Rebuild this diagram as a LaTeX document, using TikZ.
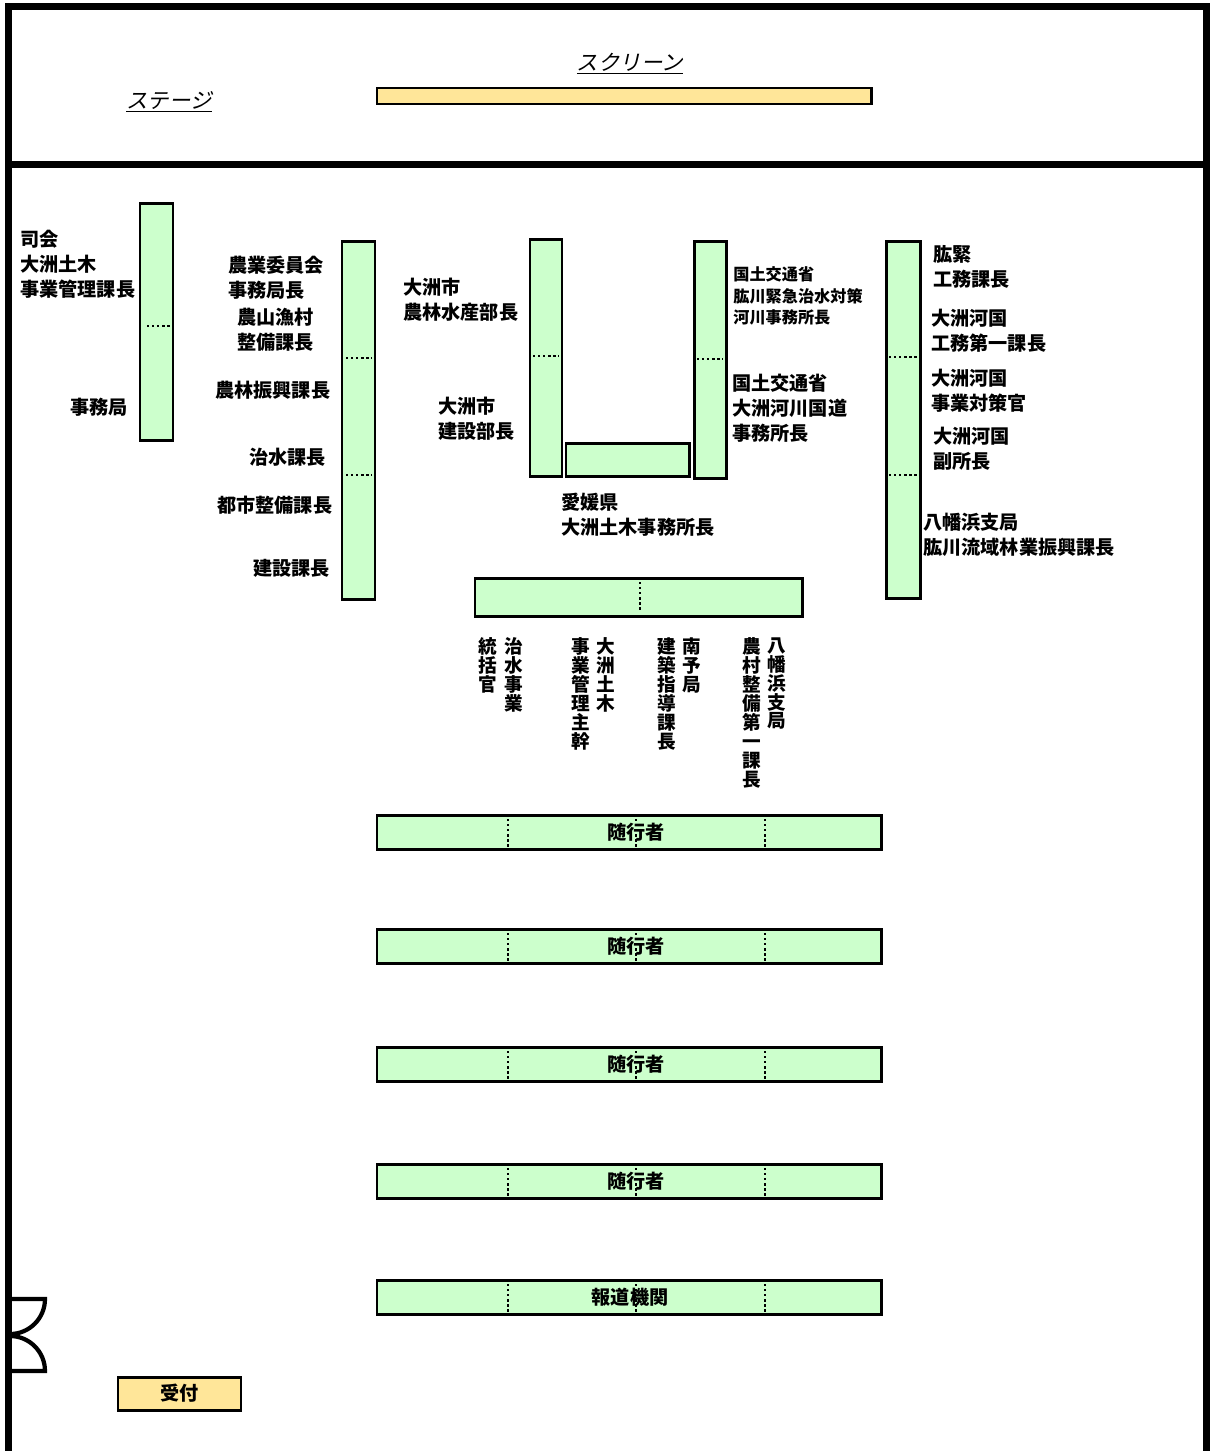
\documentclass[tikz,border=0pt]{standalone}
\usepackage{fontspec}
\setmainfont{Noto Sans CJK JP}
\newfontfamily\slantjp{Noto Sans CJK JP}[FakeSlant=0.22]
\usepackage{xcolor}
\definecolor{cDesk}{HTML}{CCFFCC}
\definecolor{cScreen}{HTML}{FFE699}
\usepackage{tikz}
\usetikzlibrary{positioning}
\newcommand\pxu{0.02cm}
\tikzset{
  line-wall/.style={line width=4pt,draw=black,line join=miter},
  line-door/.style={line width=2.4pt,draw=black},
  node-desk/.style={draw=black,line width=1.7pt,fill=cDesk,inner sep=0pt},
  node-screen/.style={draw=black,line width=1.7pt,fill=cScreen,inner sep=0pt,
    font=\bfseries\fontsize{10.9}{12}\selectfont},
  line-split/.style={line width=1.6pt,dash pattern=on 1.3pt off 1.6pt},
  label-seat/.style={font=\bfseries\fontsize{10.9}{14.2}\selectfont,
    inner sep=0pt,align=left,anchor=west},
  label-small/.style={font=\bfseries\fontsize{9.2}{12.3}\selectfont,
    inner sep=0pt,align=left,anchor=west},
  label-vert/.style={font=\bfseries\fontsize{10.6}{10.8}\selectfont,
    inner sep=0pt,align=center,anchor=north},
  label-row/.style={font=\bfseries\fontsize{10.9}{12}\selectfont,inner sep=0pt},
  label-area/.style={font=\slantjp\fontsize{12.2}{14}\selectfont,inner sep=0pt},
}
\begin{document}
\begin{tikzpicture}[x=0.02cm,y=-0.02cm]
  \useasboundingbox (0,0) rectangle (1210,1451);
  % walls and stage line
  \draw[line-wall] (8.5,1451) -- (8.5,6.5) -- (1206.5,6.5) -- (1206.5,1451);
  \draw[line-wall] (8.5,164.5) -- (1206.5,164.5);
  % door
  \draw[line-door] (10,1299) -- (45,1299) arc[start angle=0,end angle=90,radius=35];
  \draw[line-door] (10,1336) arc[start angle=-90,end angle=0,radius=35] -- (10,1371);
  % stage
  \node[node-screen,minimum width=494*\pxu,minimum height=16*\pxu] (screen) at (624,96) {};
  \node[label-area] (lbl-screen) at (630,64) {\underline{スクリーン}};
  \node[label-area] (lbl-stage) at (169,102) {\underline{ステージ}};

  % desks
  \node[node-desk,minimum width=33*\pxu,minimum height=237*\pxu] (desk-mc) at (156.5,321.5) {};
  \node[node-desk,minimum width=33*\pxu,minimum height=358*\pxu] (desk-left) at (358.5,420) {};
  \node[node-desk,minimum width=32*\pxu,minimum height=237*\pxu] (desk-city) at (546,357.5) {};
  \node[node-desk,minimum width=123*\pxu,minimum height=33*\pxu] (desk-pref) at (627.5,459.5) {};
  \node[node-desk,minimum width=32*\pxu,minimum height=237*\pxu] (desk-mlit) at (710,359.5) {};
  \node[node-desk,minimum width=34*\pxu,minimum height=357*\pxu] (desk-right) at (903,419.5) {};
  \node[node-desk,minimum width=327*\pxu,minimum height=38*\pxu] (desk-front) at (638.5,597) {};
  \draw[line-split] (147,326) -- (171,326);
  \draw[line-split] (346,358) -- (372,358);
  \draw[line-split] (346,475) -- (372,475);
  \draw[line-split] (533,356) -- (559,356);
  \draw[line-split] (697,359) -- (723,359);
  \draw[line-split] (889,357) -- (917,357);
  \draw[line-split] (889,475) -- (917,475);
  \draw[line-split] (640,582) -- (640,612);

  % seat labels
  \node[label-seat] (lbl-mc) at (20,264) {司会\\大洲土木\\事業管理課長};
  \node[label-seat] (lbl-sec) at (70,407) {事務局};
  \node[label-seat] (lbl-nogyo) at (228,278) {農業委員会\\事務局長};
  \node[label-seat] (lbl-sanson) at (237,330) {農山漁村\\整備課長};
  \node[label-seat] (lbl-rinshin) at (215,390) {農林振興課長};
  \node[label-seat] (lbl-chisui) at (249,457) {治水課長};
  \node[label-seat] (lbl-toshi) at (217,505) {都市整備課長};
  \node[label-seat] (lbl-kensetsu) at (253,568) {建設課長};
  \node[label-seat] (lbl-rinsui) at (403,300) {大洲市\\農林水産部長};
  \node[label-seat] (lbl-kenbu) at (438,419) {大洲市\\建設部長};
  \node[label-seat] (lbl-doboku) at (561,515) {愛媛県\\大洲土木事務所長};
  \node[label-small] (lbl-kinkyu) at (733,296) {国土交通省\\肱川緊急治水対策\\河川事務所長};
  \node[label-seat] (lbl-kokudo) at (732,408) {国土交通省\\大洲河川国道\\事務所長};
  \node[label-seat] (lbl-komu) at (933,267) {肱緊\\工務課長};
  \node[label-seat] (lbl-komu1) at (931,331) {大洲河国\\工務第一課長};
  \node[label-seat] (lbl-taisaku) at (931,391) {大洲河国\\事業対策官};
  \node[label-seat] (lbl-fuku) at (933,449) {大洲河国\\副所長};
  \node[label-seat] (lbl-yawata) at (923,535) {八幡浜支局\\肱川流域林業振興課長};

  % front desk, vertical labels
  \node[label-vert] (v-tokatsu) at (488,637) {統\\括\\官};
  \node[label-vert] (v-chisui) at (514,637) {治\\水\\事\\業};
  \node[label-vert] (v-kanri) at (581,637) {事\\業\\管\\理\\主\\幹};
  \node[label-vert] (v-doboku) at (606,637) {大\\洲\\土\\木};
  \node[label-vert] (v-kenchiku) at (667,637) {建\\築\\指\\導\\課\\長};
  \node[label-vert] (v-nanyo) at (692,637) {南\\予\\局};
  \node[label-vert] (v-noson) at (752,637) {農\\村\\整\\備\\第\\一\\課\\長};
  \node[label-vert] (v-yawata) at (777,637) {八\\幡\\浜\\支\\局};

  % rows at the back
  \foreach \ry in {832,946,1064,1181,1297} {
    \node[node-desk,minimum width=504*\pxu,minimum height=34*\pxu] (row-\ry) at (629,\ry) {};
    \foreach \rx in {508,636,765}
      \draw[line-split] (\rx,\ry-13) -- (\rx,\ry+15);
  }
  \node[label-row] (lbl-row1) at (636,832) {随行者};
  \node[label-row] (lbl-row2) at (636,946) {随行者};
  \node[label-row] (lbl-row3) at (636,1064) {随行者};
  \node[label-row] (lbl-row4) at (636,1181) {随行者};
  \node[label-row] (lbl-press) at (630,1297) {報道機関};

  % reception
  \node[node-screen,minimum width=123*\pxu,minimum height=33*\pxu] (reception) at (179.5,1393.5) {受付};
\end{tikzpicture}
\end{document}
